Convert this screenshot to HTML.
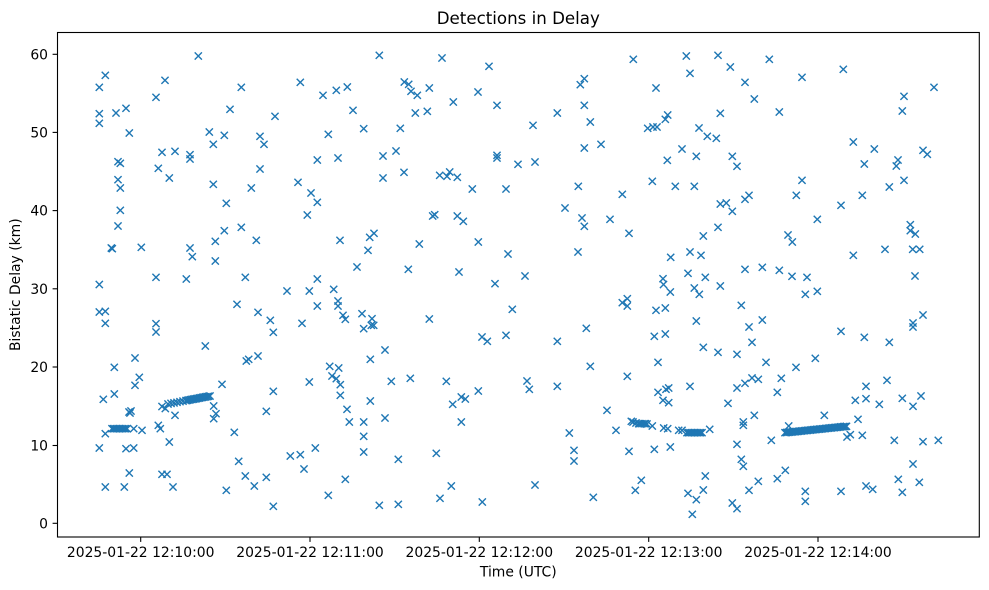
<!DOCTYPE html>
<html><head><meta charset="utf-8"><style>
html,body{margin:0;padding:0;background:#fff;}
svg{display:block;}
text{font-family:"DejaVu Sans","Liberation Sans",sans-serif;fill:#000;}
</style></head><body>
<svg width="989" height="590" viewBox="0 0 989 590" xmlns="http://www.w3.org/2000/svg">
<defs>
<marker id="m" markerWidth="12" markerHeight="12" refX="6" refY="6" markerUnits="userSpaceOnUse" overflow="visible">
<path d="M2.4 2.4L9.6 9.6M9.6 2.4L2.4 9.6" stroke="#1f77b4" stroke-width="1.4" fill="none"/>
</marker>
</defs>
<rect width="989" height="590" fill="#fff"/>
<text x="518.3" y="24" font-size="16.67" text-anchor="middle">Detections in Delay</text>

<polyline fill="none" stroke="none" marker-start="url(#m)" marker-mid="url(#m)" marker-end="url(#m)" points="
198.3,56 105.3,75.3 99.3,87.3 165,80.3 156,97.3 241.3,87.3 300.3,82.3 323,95.3 336.3,90.3 347.3,87 353,110.3 363.7,128.7 99.3,113.7 99.3,123.3 116,113 126,108.3 129.3,133 230,109.3 275,116.3 209.3,132 224.3,135.3 213.3,144.3 260,136.3 264,144.3 328.3,134.3 162,152.3 175,151.3 190,154.7 190,159 118,161.7 120.3,163.3 158.3,168.3 169.3,178 260,169 317.3,160 338,158 118,179.7 120.3,188 213.3,184.3 251.3,188 298,182.3 311,193 317.3,202.3 226.3,203.3 307.3,215 120.3,210.3 118,226 224.3,230.7 241.3,227.3 215.3,241.3 256.3,240.3 340,240.3 112.3,248.7 111.3,248 141.3,247.3 190,248 192.3,256.7 215.3,261 357,267 156,277.3 186.3,279 245.3,277.3 317.3,279 99.3,284.5
287,291 309.3,291 333.7,289.3 237,304.3 317.3,306 338,301 338,306 99.3,312 105.3,311.3 105.3,323.3 258,312.3 270.3,320.3 273.3,332.3 302,323.3 343,315.3 345.3,319.3 362,313.7 363.7,328.7 156,323.7 156,332 205.3,346 135,358 114.3,367.3 139.3,377.3 135,385.3 246.3,361 248.7,359.3 258,356 329.7,366.3 338.7,368 332,376 336.3,378.7 340.3,384.7 340.3,395.3 222,384.3 309.3,382 273.3,391.3 103.3,399.3 114.3,394 347,409.3 349.3,422 363.7,422 363.7,436.3 363.7,452 266.3,411.3 129,412 131,411 130,413 213.7,406 216,413.7 213.7,418.7 175,415.3
162,406.5 165.3,408.5 168,404 171,403.4 174,402.9 177,402.3 180,401.7 183,401.1 186,400.6 187.5,400.3 189,400 190.5,399.7 192,399.4 193.5,399.1 195,398.9 196.5,398.6 198,398.3 199.5,398 201,397.7 202.5,397.4 204,397.1 205.5,396.9 207,396.6 208.5,396.3 210,396
112,428.7 113.5,428.7 115,428.7 116.5,428.7 118,428.7 119.5,428.7 121,428.7 122.5,428.7 124,428.7 125.5,428.7 127,428.7 133.7,428.7 142,430.3 105.3,433.7 158.3,425.3 160.3,428.7 234.3,432.3 169.3,442 99.3,448 126,448.7 133.7,448 238.7,461.3 290.3,456 300.3,454.7 315.3,448 304,469 345.3,479.3 129.3,473 162,474.3 167,474.3 245.3,476 266.3,477.3 254.3,486 105.3,487 124.3,487 173,487 226.3,490.3 328.3,495.3 273.3,506.3
379.3,55.3 442,58 489,66.3 633.3,59.3 404.3,82 408.7,84.3 411,91.3 417.3,95.3 429.3,88 478,92 453.3,102 497,105.3 415.3,113 427.3,111.3 580.3,84.7 584.3,78.7 584.3,105.3 656,88 557.3,113 533,125.3 590.3,122 400.3,128.3 647.7,128.3 653,127 657,127 665.3,119.3 667.7,115 584.3,148 601,144.3 383,156 396,151 497,155.3 497,158 518,164.3 535,162 667.3,160.3 383,178 404,172.3 439.7,175.3 447,176.3 449.7,172 457.3,177.3 472.3,189 506,189 578.3,186.3 622.3,194.3 652.3,181.3 565,208 432.7,216 434.7,214.7 457.3,216 463.3,221.3 582,218 584.3,226.3 610,219.3 374,233.3 369.7,237.3 368,250.3 419.3,244 478.3,242 629,233.3 508,254 578,252 670.7,257.3 408.3,269.3 459,272 525,276 495,283.7 663,278.7 663.5,284.5
670.3,292 372,318.7 373.7,325.3 371.3,325.3 429.3,319 512.3,309.3 482,337 487.3,341.3 506,335.3 557.3,341.3 586.3,328.3 622.3,302.7 627.3,298.7 627.3,306 656,310.3 665.3,308 654.3,336.3 665.3,334 385,350 370.3,359.3 391.3,381.3 410.3,378.3 446.3,381.3 527,381 529.3,389.3 557.3,386.3 590.3,366.3 627.3,376.3 658,362.3 370.3,401 461.3,397 465.3,399 452.7,404.3 478.3,391 658,392.3 666,389.3 668.7,388 663,400.3 668.7,402.7 385,418 461.3,422 607,410.3 631.3,421.3 633,422 636,423 638.7,423.7 640,423.7 642,423.7 644,423.7 645.3,423.7 647,424 652.3,426 663.7,428 667.7,428.7 616,430.3 569.3,433 398.3,459.3 436.3,453.3 574,450.3 574,461 629,451.3 654.3,449.3 670.3,447 451.3,486 440,498.3 535,485 641.3,480.3 635.3,490.3 593.3,497.3 379.3,505.3 398.3,504.3 482.3,502
686.3,56 718,55.3 769.3,59.3 690,73.3 730.3,67 745,82.3 802,77.3 843.3,69.3 754.3,99 904,96.3 934,87.3 902.3,111 720.3,113.3 779.3,112 699,128 707.3,136.3 716.3,138.3 853.3,142 874.3,149 923,150.3 927.3,154.3 682,149 696.3,156.3 732.3,156.3 737,166.3 864.3,164 898,160 896.3,166 802,180.3 904,180.3 675.3,186.3 694.3,186.3 889.3,187 796.3,195.3 862.3,195.3 720.3,204 726.3,203 732.3,211.3 745,199.3 749,195.3 841,205.3 817.3,219.3 718,227.3 703.3,236 788,235 792.3,242 910.3,224.7 910.3,230.7 915.3,234 690,252 701,255.3 853.3,255.3 885,249.3 912.7,249.3 919.7,249.3 745,269.3 762.3,267.3 779.3,270.3 792,276.3 807,277.3 688,273.3 705.3,277.3 915,276
694.3,288 699.3,294.3 720.3,286 805.3,294.3 817.3,291.3 741.3,305.3 696.3,321 762.3,320 749,327 752,342.3 841,331.3 864.3,337.3 889.3,342.3 913,323 913,327 923,315 703.3,347.3 718,352.3 737,354.3 766,362.3 796,367.3 815.3,358.3 690,386.3 737,388 745,383.3 752,378 758.3,379.3 781.3,378.3 777.3,392.3 728,403.3 866,386.3 887,380.3 855.3,400.3 866,398.7 879.3,404.3 902.3,398.3 921,396 913,406.3 754.3,415.3 743.3,422 743.3,425.3 824.3,415.3 858,419.3
678.7,430.3 682,430.3 687,432.7 688.5,432.7 690,432.7 691.5,432.7 693,432.7 694.5,432.7 696,432.7 697.5,432.7 699,432.7 700.5,432.7 702,432.7 709.7,429.3
785,432.7 786.5,432.5 788,432.4 789.5,432.2 791,432.1 792.5,431.9 794,431.8 795.5,431.6 797,431.5 798.5,431.3 800,431.1 801.5,431 803,430.8 804.5,430.7 806,430.5 807.5,430.4 809,430.2 810.5,430.1 812,429.9 813.5,429.7 815,429.6 816.5,429.4 818,429.3 819.5,429.1 821,429 822.5,428.8 824,428.7 825.5,428.5 827,428.3 828.5,428.2 830,428 831.5,427.9 833,427.7 834.5,427.6 836,427.4 837.5,427.3 839,427.1 840.5,426.9 842,426.8 843.5,426.6 845,426.5 846.5,426.3 788.7,426
847,437 850.3,434.7 862.3,435.3 771.3,440.3 894.3,440.3 923,441.7 938.3,440.3 737,444.3 741.3,459.3 743.3,466.3 913,464 705.3,476 703.3,490 688,493.3 696.3,499.7 692.3,514.3 758.3,481.3 749,490.3 777.3,478.7 785.3,470.3 732.3,503 737,508.7 805.3,491.3 805.3,501.3 841,491.3 866,486 872.7,489.3 898.3,479.3 902.3,492.3 919.3,482.3
"/>

<rect x="57.5" y="32.5" width="921.8" height="504.5" fill="none" stroke="#000" stroke-width="1.1"/>

<g stroke="#000" stroke-width="1.1">
<line x1="52.6" y1="523.3" x2="57.5" y2="523.3"/>
<line x1="52.6" y1="445.5" x2="57.5" y2="445.5"/>
<line x1="52.6" y1="367.0" x2="57.5" y2="367.0"/>
<line x1="52.6" y1="288.8" x2="57.5" y2="288.8"/>
<line x1="52.6" y1="210.6" x2="57.5" y2="210.6"/>
<line x1="52.6" y1="132.4" x2="57.5" y2="132.4"/>
<line x1="52.6" y1="54.3" x2="57.5" y2="54.3"/>
<line x1="140.7" y1="537" x2="140.7" y2="541.9"/>
<line x1="310" y1="537" x2="310" y2="541.9"/>
<line x1="479.3" y1="537" x2="479.3" y2="541.9"/>
<line x1="648.7" y1="537" x2="648.7" y2="541.9"/>
<line x1="818" y1="537" x2="818" y2="541.9"/>
</g>

<g font-size="13.9" text-anchor="end">
<text x="48" y="528.3">0</text>
<text x="48" y="450.5">10</text>
<text x="48" y="372.0">20</text>
<text x="48" y="293.8">30</text>
<text x="48" y="215.6">40</text>
<text x="48" y="137.4">50</text>
<text x="48" y="59.3">60</text>
</g>
<g font-size="13.9" text-anchor="middle">
<text x="140.7" y="557">2025-01-22 12:10:00</text>
<text x="310" y="557">2025-01-22 12:11:00</text>
<text x="479.3" y="557">2025-01-22 12:12:00</text>
<text x="648.7" y="557">2025-01-22 12:13:00</text>
<text x="818" y="557">2025-01-22 12:14:00</text>
<text x="518.3" y="576.5">Time (UTC)</text>
</g>
<text font-size="13.9" text-anchor="middle" transform="translate(20,284.7) rotate(-90)">Bistatic Delay (km)</text>
</svg>
</body></html>
